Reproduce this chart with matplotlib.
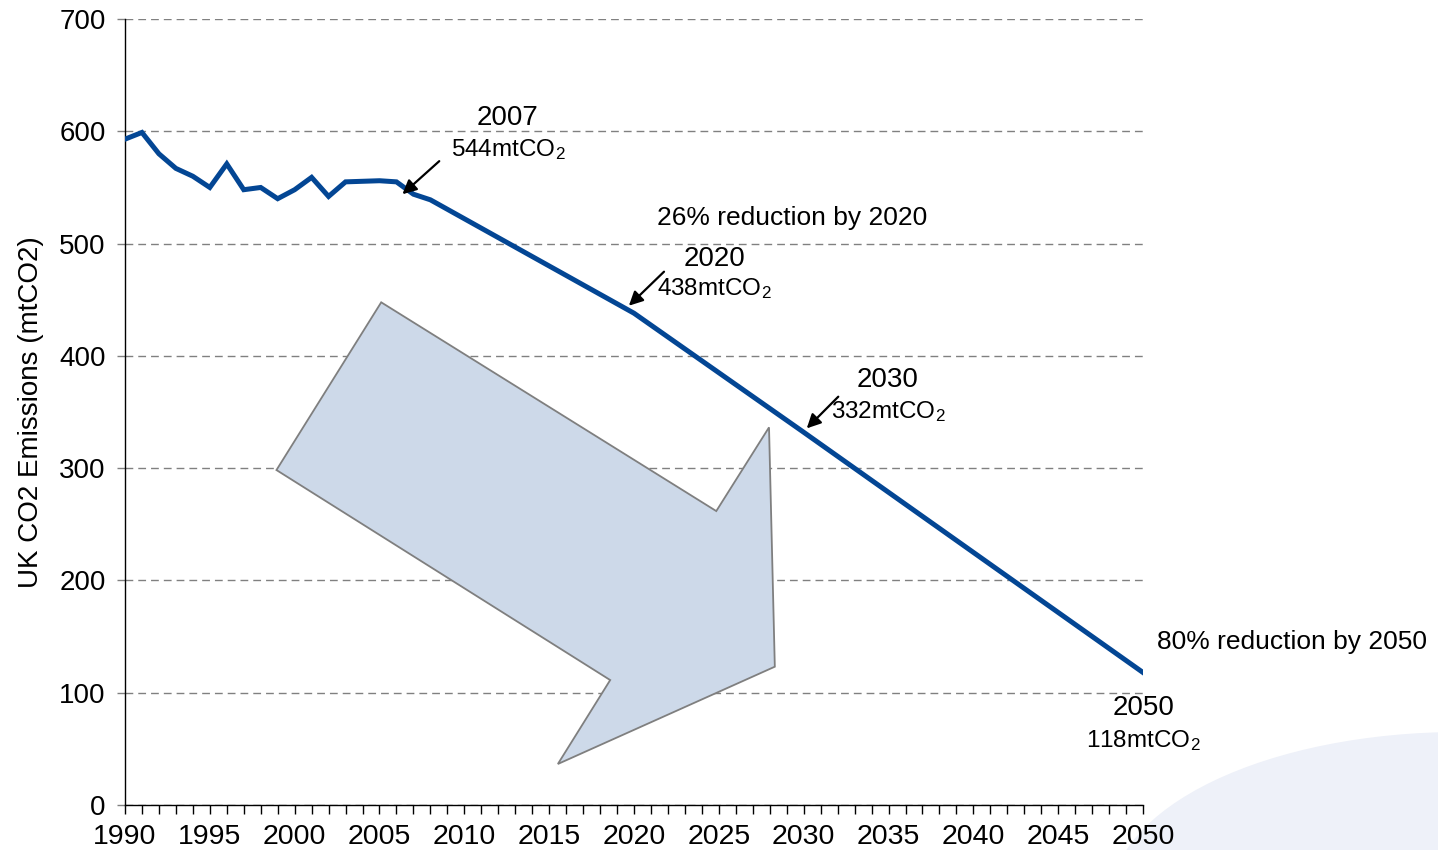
import matplotlib
matplotlib.use('Agg')
import matplotlib.pyplot as plt
from matplotlib.patches import Polygon, Ellipse
from matplotlib.transforms import ScaledTranslation
from matplotlib.ticker import MultipleLocator

plt.rcParams['font.family'] = ['Liberation Sans', 'DejaVu Sans']
plt.rcParams['mathtext.fontset'] = 'custom'
plt.rcParams['mathtext.rm'] = 'Liberation Sans'
plt.rcParams['mathtext.it'] = 'Liberation Sans:italic'
plt.rcParams['mathtext.bf'] = 'Liberation Sans:bold'

# ---- data ----
years = [1990, 1991, 1992, 1993, 1994, 1995, 1996, 1997, 1998, 1999,
         2000, 2001, 2002, 2003, 2004, 2005, 2006, 2007, 2008,
         2020, 2030, 2050]
emissions = [593, 599, 580, 567, 560, 550, 571, 548, 550, 540,
             548, 559, 542, 555, 555.5, 556, 555, 544, 539,
             438, 332, 118]

milestone_years = [2007, 2020, 2030, 2050]
milestone_values = [544, 438, 332, 118]
milestone_year_labels = ['2007', '2020', '2030', '2050']
milestone_value_labels = ['544mtCO$_2$', '438mtCO$_2$', '332mtCO$_2$', '118mtCO$_2$']

target_texts = ['26% reduction by 2020', '80% reduction by 2050']

x_ticks = list(range(1990, 2051, 5))
y_ticks = [0, 100, 200, 300, 400, 500, 600, 700]

# ---- figure ----
fig = plt.figure(figsize=(14.38, 8.5), dpi=100)
ax = fig.add_axes([0.0869, 0.0529, 0.7080, 0.9247])
ax.patch.set_facecolor('none')

# decorative background arc (bottom right)
fig.add_artist(Ellipse((1.0153, -0.0588), 0.4860, 0.3953, transform=fig.transFigure,
                       facecolor='#EEF1F9', edgecolor='none', zorder=-1))

ax.plot(years, emissions, color='#034694', lw=3.6, solid_joinstyle='miter', zorder=3)

ax.set_xlim(1990, 2050)
ax.set_ylim(0, 700)
ax.set_xticks(x_ticks)
ax.set_xticklabels([str(x) for x in x_ticks])
ax.xaxis.set_minor_locator(MultipleLocator(1))
ax.set_yticks(y_ticks)

for s in ['top', 'right']:
    ax.spines[s].set_visible(False)
for s in ['left', 'bottom']:
    ax.spines[s].set_color('black')
    ax.spines[s].set_linewidth(1.0)

ax.tick_params(axis='x', which='both', direction='out', length=6.5, width=1,
               color='black', labelsize=20.5, pad=7)
ax.tick_params(axis='y', which='major', direction='out', length=6, width=1,
               color='#808080', labelsize=20, pad=8)

ax.set_axisbelow(True)
ax.yaxis.grid(True, linestyle=(0, (5.6, 3.6)), color='#808080', lw=1.0)

ax.set_ylabel('UK CO2 Emissions (mtCO2)', fontsize=20)
ax.yaxis.set_label_coords(-0.080, 0.5)

# big decorative arrow (axes fraction)
arrow_shape = [(0.2517, 0.6396), (0.5808, 0.3740), (0.6326, 0.4805), (0.6383, 0.1760),
               (0.4252, 0.0522), (0.4766, 0.1590), (0.1488, 0.4262)]
ax.add_patch(Polygon(arrow_shape, closed=True, transform=ax.transAxes,
                     facecolor='#CDD9E9', edgecolor='#7F7F7F', lw=1.3, zorder=1.5))

# milestone annotations
tip_offsets = [(-7.9, 0.0), (-3.7, 5.4), (2.2, 2.8)]
tail_rel = [(26.5, 23.8), (25.3, 24.5), (22.7, 22.8)]
year_lbl_off = [(67.5, 49.8), (57.6, 34.2), (60.2, 32.8), (0, -30.6)]
val_lbl_off = [(68.3, 27.6), (58.0, 13.1), (60.9, 10.0), (0, -53.4)]

for i, (yr, v) in enumerate(zip(milestone_years, milestone_values)):
    if i < 3:
        tr = ax.transData + ScaledTranslation(tip_offsets[i][0] / 72, tip_offsets[i][1] / 72,
                                              fig.dpi_scale_trans)
        ax.annotate('', xy=(yr, v), xycoords=tr, xytext=tail_rel[i],
                    textcoords='offset points',
                    arrowprops=dict(arrowstyle='-|>', color='black', lw=1.6,
                                    mutation_scale=21, shrinkA=0, shrinkB=0),
                    zorder=5)
    ax.annotate(milestone_year_labels[i], xy=(yr, v), xytext=year_lbl_off[i],
                textcoords='offset points', ha='center', va='baseline',
                fontsize=20, annotation_clip=False)
    ax.annotate(milestone_value_labels[i], xy=(yr, v), xytext=val_lbl_off[i],
                textcoords='offset points', ha='center', va='baseline',
                fontsize=17.5, annotation_clip=False)

ax.text(2029.3, 516.5, target_texts[0], ha='center', va='baseline', fontsize=19)
ax.text(2058.8, 138.7, target_texts[1], ha='center', va='baseline', fontsize=19,
        clip_on=False)

fig.savefig('out.png', dpi=100)
